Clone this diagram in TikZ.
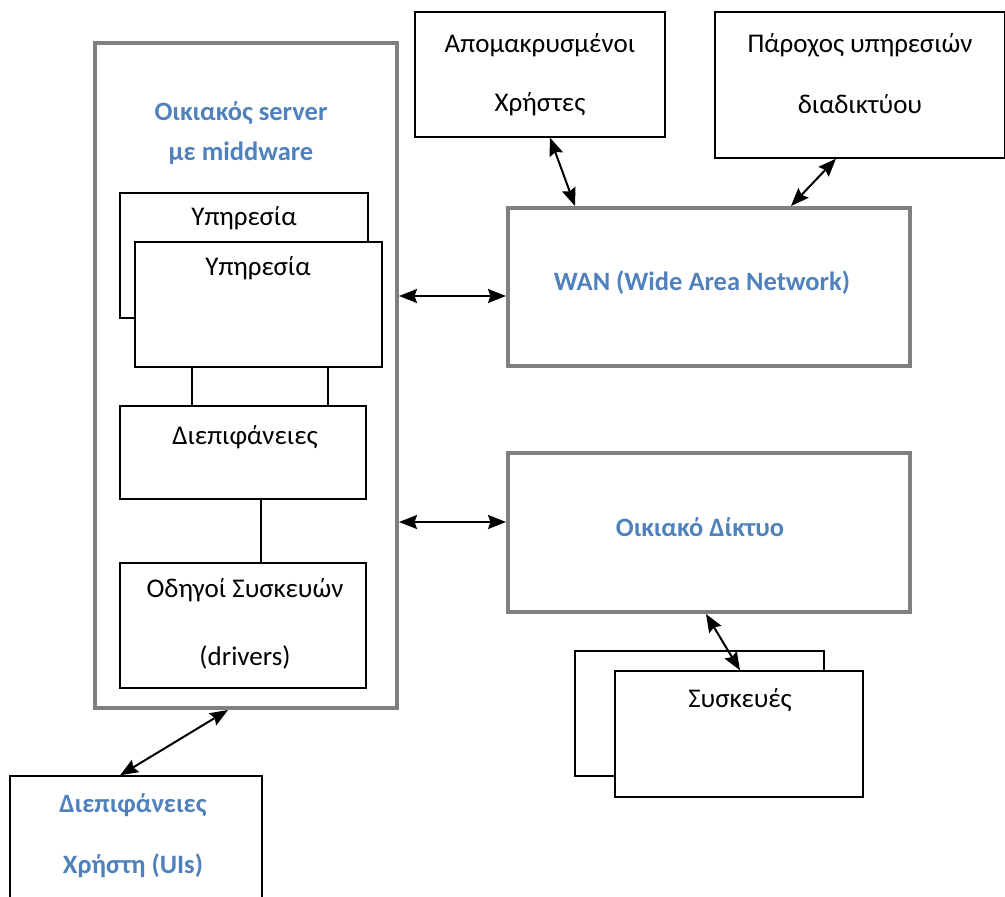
\documentclass[tikz,border=0pt]{standalone}
\usepackage{fontspec}
\setmainfont{Carlito}
\usetikzlibrary{arrows.meta,calc}
\definecolor{accent}{RGB}{79,129,189}
\definecolor{frame}{RGB}{128,128,128}
\tikzset{
  thinbox/.style={draw=black, line width=1.3pt, fill=white, inner sep=0pt},
  thickbox/.style={draw=frame, line width=4pt, fill=white, inner sep=0pt},
  txt/.style={font=\fontsize{27}{31}\selectfont, inner sep=0pt},
  btxt/.style={font=\fontsize{26.5}{30}\selectfont\bfseries, text=accent, inner sep=0pt},
  tip/.tip={Stealth[length=18pt 0, width=14pt 0, inset=2.5pt 0]},
  dbl/.style={line width=2pt, tip-tip},
  link/.style={line width=1.3pt}
}
\begin{document}
\begin{tikzpicture}[x=1pt,y=-1pt]
\useasboundingbox[fill=white] (0,0) rectangle (1005,897);

% home server with middleware
\node[thickbox, minimum width=302, minimum height=665] (srv) at (246,375.5) {};
\node[btxt] (srvT1) at (241,113) {Οικιακός server};
\node[btxt] (srvT2) at (241,153) {με middware};

% stacked service boxes
\node[thinbox, minimum width=248, minimum height=125] (sb) at (244,255.5) {};
\node[txt] (sbT) at (244,218) {Υπηρεσία};
\node[thinbox, minimum width=247, minimum height=125] (sf) at (258.5,304.5) {};
\node[txt] (sfT) at (258,268) {Υπηρεσία};

% interfaces
\node[thinbox, minimum width=246, minimum height=93] (dif) at (243,452.5) {};
\node[txt] (difT) at (245,437) {Διεπιφάνειες};

% device drivers
\node[thinbox, minimum width=246, minimum height=125] (drv) at (243,625.5) {};
\node[txt] (drvT1) at (245,590) {Οδηγοί Συσκευών};
\node[txt] (drvT2) at (245,657) {(drivers)};

% internal links
\coordinate (l1) at (192,0);
\coordinate (l2) at (328,0);
\coordinate (l3) at (261,0);
\draw[link] (sf.south -| l1) -- (dif.north -| l1);
\draw[link] (sf.south -| l2) -- (dif.north -| l2);
\draw[link] (dif.south -| l3) -- (drv.north -| l3);

% remote users
\node[thinbox, minimum width=250, minimum height=125] (apo) at (540,74.5) {};
\node[txt] (apoT1) at (540,45) {Απομακρυσμένοι};
\node[txt] (apoT2) at (540,104) {Χρήστες};

% internet service provider
\node[thinbox, minimum width=290, minimum height=146] (isp) at (860,85) {};
\node[txt] (ispT1) at (860,45) {Πάροχος υπηρεσιών};
\node[txt] (ispT2) at (860,104) {διαδικτύου};

% WAN
\node[thickbox, minimum width=402, minimum height=158] (wan) at (709,287) {};
\node[btxt] (wanT) at (702,283) {WAN (Wide Area Network)};

% home network
\node[thickbox, minimum width=402, minimum height=159] (hn) at (709,532.5) {};
\node[btxt] (hnT) at (700,527) {Οικιακό Δίκτυο};

% devices
\node[thinbox, minimum width=249, minimum height=125] (dvb) at (699.5,713.5) {};
\node[thinbox, minimum width=248, minimum height=126] (dvf) at (739,734) {};
\node[txt] (dvfT) at (740,700) {Συσκευές};

% user interfaces
\node[thinbox, minimum width=252, minimum height=140] (ui) at (136,846) {};
\node[btxt] (uiT1) at (133,805) {Διεπιφάνειες};
\node[btxt] (uiT2) at (133,866) {Χρήστη (UIs)};

% connectors
\coordinate (yW) at (0,296);
\coordinate (yH) at (0,522);
\coordinate (pA) at (550,0);
\coordinate (pB) at (575,0);
\coordinate (pC) at (836,0);
\coordinate (pD) at (791,0);
\coordinate (pE) at (706,0);
\coordinate (pF) at (740,0);
\coordinate (pG) at (228,0);
\coordinate (pH) at (120,0);
\draw[dbl] (srv.east |- yW) -- (wan.west |- yW);
\draw[dbl] (srv.east |- yH) -- (hn.west |- yH);
\draw[dbl] (apo.south -| pA) -- (wan.north -| pB);
\draw[dbl] (isp.south -| pC) -- (wan.north -| pD);
\draw[dbl] (hn.south -| pE) -- (dvf.north -| pF);
\draw[dbl] (srv.south -| pG) -- (ui.north -| pH);
\end{tikzpicture}
\end{document}
